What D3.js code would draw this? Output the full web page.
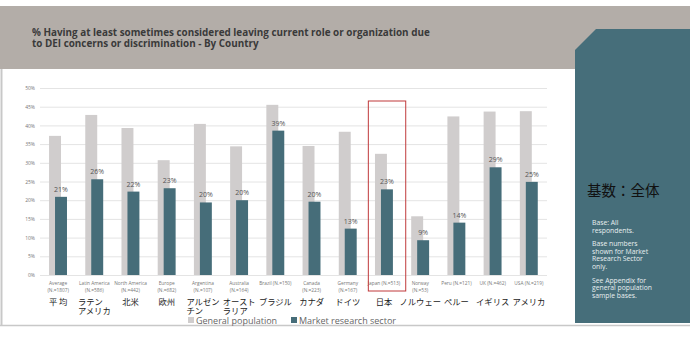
<!DOCTYPE html>
<html><head><meta charset="utf-8">
<script src="https://cdn.jsdelivr.net/npm/d3@7"></script>
<style>body{margin:0;background:#fff}svg{display:block}</style>
</head><body>
<svg id="c" width="690" height="344"></svg>
<script>
const categories = ["Average","Latin America","North America","Europe","Argentina","Australia","Brazil","Canada","Germany","Japan","Norway","Peru","UK","USA"];
const enLabels = [["Average","(N.=1807)"],["Latin America","(N.=586)"],["North America","(N.=442)"],["Europe","(N.=682)"],["Argentina","(N.=107)"],["Australia","(N.=164)"],["Brazil (N.=150)"],["Canada","(N.=223)"],["Germany","(N.=167)"],["Japan (N.=513)"],["Norway","(N.=53)"],["Peru (N.=121)"],["UK (N.=462)"],["USA (N.=219)"]];
const jaLabels = [["平 均"],["ラテン","アメリカ"],["北米"],["欧州"],["アルゼン","チン"],["オースト","ラリア"],["ブラジル"],["カナダ"],["ドイツ"],["日本"],["ノルウェー"],["ペルー"],["イギリス"],["アメリカ"]];
const generalPop = [37.2,42.8,39.3,30.7,40.4,34.4,45.5,34.5,38.3,32.4,15.7,42.4,43.7,43.8];
const marketResearch = [20.9,25.6,22.3,23.2,19.4,20.0,38.6,19.6,12.4,22.9,9.3,14.0,28.8,24.9];
const marketLabels = ["21%","26%","22%","23%","20%","20%","39%","20%","13%","23%","9%","14%","29%","25%"];
const yTicks = [0,5,10,15,20,25,30,35,40,45,50];
const titleLines = ["% Having at least sometimes considered leaving current role or organization due","to DEI concerns or discrimination - By Country"];
const legendItems = ["General population","Market research sector"];
const highlight = "Japan";
const sideTitle = "基数：全体";
const sideNotes = [["Base: All","respondents."],["Base numbers","shown for Market","Research Sector","only."],["See Appendix for","general population","sample bases."]];

const svg = d3.select("#c");
const GRAY = "#d0cdcd", TEAL = "#466d79";
const font = "'Open Sans', 'Noto Sans', sans-serif";
const jfont = "'Noto Sans CJK JP', sans-serif";

// header band
svg.append("rect").attr("x",0).attr("y",6).attr("width",690).attr("height",63).attr("fill","#b3ada8");
// frame lines
svg.append("line").attr("x1",1.5).attr("x2",1.5).attr("y1",69).attr("y2",325).attr("stroke","#c8c8c8").attr("stroke-width",2);
svg.append("line").attr("x1",0).attr("x2",690).attr("y1",325.5).attr("y2",325.5).attr("stroke","#c8c8c8").attr("stroke-width",1.5);

// title
const tg = svg.append("g");
titleLines.forEach((t,i)=>{
  tg.append("text").attr("x",32).attr("y",35.5+i*11.8).attr("font-family",font).attr("font-weight","700")
    .attr("font-size",9).attr("fill","#3a3a3a").text(t);
});
{ const L = tg.select("text").node().getComputedTextLength(); tg.selectAll("text").attr("font-size",9*398/L); }

// side panel
svg.append("path").attr("d","M575,50 L596,29 L690,29 L690,323 L575,323 Z").attr("fill","#466e7a");
svg.append("text").attr("x",587).attr("y",196).attr("font-family",jfont).attr("font-size",14.5).attr("fill","#111").text(sideTitle);
let ny = 225;
sideNotes.forEach(block=>{
  block.forEach(line=>{
    svg.append("text").attr("x",592).attr("y",ny).attr("font-family",font).attr("font-size",6.8).attr("fill","#e8eef0").text(line);
    ny += 7.6;
  });
  ny += 6;
});

// scales
const x = d3.scaleBand().domain(categories).range([40,547]).paddingInner(0).paddingOuter(0);
const y = d3.scaleLinear().domain([0,50]).range([275,88]);
const bw = x.bandwidth();

// grid + y axis
const yAxis = d3.axisLeft(y).tickValues(yTicks).tickFormat(d=>d+"%").tickSize(-(547-40)).tickPadding(5);
const ga = svg.append("g").attr("transform","translate(40,0)").call(yAxis);
ga.select(".domain").remove();
ga.selectAll(".tick line").attr("stroke","#e4e4e4").attr("stroke-width",1);
ga.selectAll(".tick text").attr("font-family",font).attr("font-size",5).attr("fill","#777");

// bars
const g = svg.append("g");
g.selectAll(".gp").data(categories).join("rect").attr("class","gp")
  .attr("x",d=>x(d)+bw*0.25).attr("width",bw*0.33)
  .attr("y",(d,i)=>y(generalPop[i])).attr("height",(d,i)=>y(0)-y(generalPop[i])).attr("fill",GRAY);
g.selectAll(".mr").data(categories).join("rect").attr("class","mr")
  .attr("x",d=>x(d)+bw*0.415).attr("width",bw*0.33)
  .attr("y",(d,i)=>y(marketResearch[i])).attr("height",(d,i)=>y(0)-y(marketResearch[i])).attr("fill",TEAL);
g.selectAll(".lbl").data(categories).join("text").attr("class","lbl")
  .attr("x",d=>x(d)+bw*0.58).attr("y",(d,i)=>y(marketResearch[i])-5)
  .attr("text-anchor","middle").attr("font-family",font).attr("font-size",7).attr("fill","#555")
  .text((d,i)=>marketLabels[i]);

// x labels
categories.forEach((c,i)=>{
  const cx = x(c)+bw*0.5;
  const et = svg.append("text").attr("text-anchor","middle")
      .attr("font-family",font).attr("font-size",4.8).attr("fill","#777");
  enLabels[i].forEach((t,j)=>{
    et.append("tspan").attr("x",cx).attr("y",285+j*6.5).text(t);
  });
  const lines = jaLabels[i];
  if(lines.length===1){
    svg.append("text").attr("x",cx).attr("y",304.5).attr("text-anchor","middle")
      .attr("font-family",jfont).attr("font-size",8.3).attr("fill","#222").text(lines[0]);
  } else {
    const jt = svg.append("text").attr("font-family",jfont).attr("font-size",8.3).attr("fill","#222");
    const sp = lines.map((t,j)=>jt.append("tspan").attr("y",304.5+j*9).text(t));
    const w = d3.max(sp,s=>s.node().getComputedTextLength());
    sp.forEach(s=>s.attr("x",cx-w/2));
  }
});

// highlight box
svg.append("rect").attr("x",x(highlight)+2.4).attr("y",101).attr("width",37.4).attr("height",190)
  .attr("fill","none").attr("stroke","#c0393b").attr("stroke-width",1);

// legend
const lg = svg.append("g");
[[188,GRAY,legendItems[0]],[291,TEAL,legendItems[1]]].forEach(([lx,col,t])=>{
  lg.append("rect").attr("x",lx).attr("y",317).attr("width",6).attr("height",6).attr("fill",col);
  lg.append("text").attr("x",lx+8).attr("y",323.8).attr("font-family",font).attr("font-size",9).attr("fill","#666").text(t);
});
</script>
</body></html>
